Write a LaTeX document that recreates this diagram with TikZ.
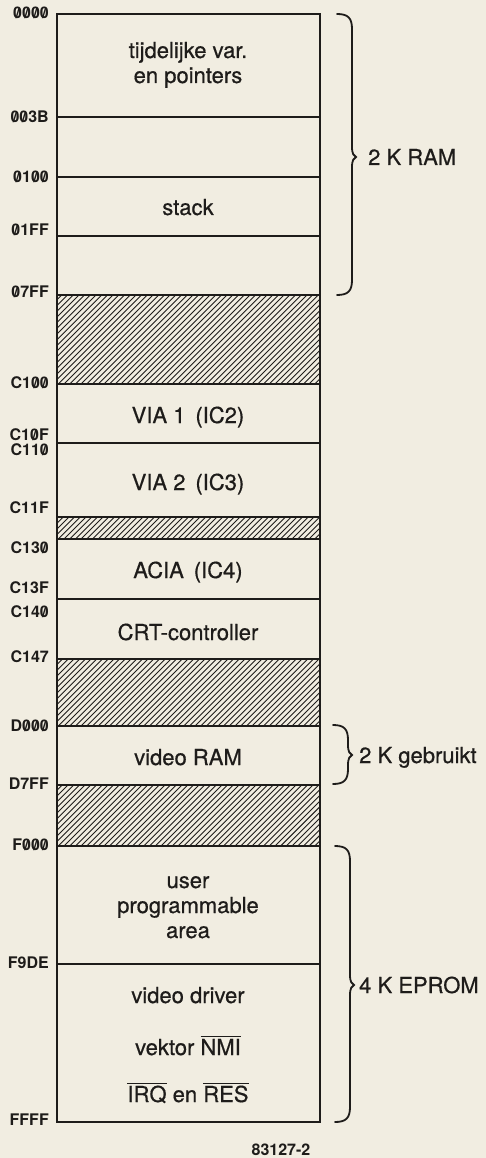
\documentclass[tikz,border=0pt]{standalone}
\usepackage{fontspec}
\setmainfont{TeX Gyre Heros}
\newfontfamily\medfont{TeX Gyre Heros}[FakeBold=0.6]
\definecolor{paper}{RGB}{241,237,225}
\definecolor{ink}{RGB}{30,28,26}
\newcommand\zs{\ooalign{0\cr\hidewidth\raisebox{0.02em}{\scalebox{0.95}[0.9]{/}}\hidewidth\cr}}
\newcommand\ovl[1]{\setbox0\hbox{#1}\rlap{\rule[0.82em]{\wd0}{0.065em}}\box0\relax}
\newcommand\rbr[4]{\draw[bracestyle] (#1,#2) .. controls ({#1+11},#2) and ({#1+15},{#2+4}) .. ({#1+15},{#2+15}) -- ({#1+15},{#4-10}) .. controls ({#1+15},{#4-3}) and ({#1+17},{#4-1}) .. ({#1+19},#4) .. controls ({#1+17},{#4+1}) and ({#1+15},{#4+3}) .. ({#1+15},{#4+10}) -- ({#1+15},{#3-15}) .. controls ({#1+15},{#3-4}) and ({#1+11},#3) .. (#1,#3);}
\tikzset{
  addr/.style={anchor=base east, inner sep=0pt, font=\fontsize{16}{18}\selectfont\bfseries, text=ink},
  lbl/.style={anchor=base, inner sep=0pt, font=\fontsize{22}{25}\medfont, text=ink},
  side/.style={anchor=base west, inner sep=0pt, font=\fontsize{22}{25}\medfont, text=ink},
  figno/.style={anchor=base, inner sep=0pt, font=\fontsize{16}{18}\selectfont\bfseries, text=ink},
  divider/.style={draw=ink, line width=1.6pt},
  frame/.style={draw=ink, line width=2.6pt},
  hatchline/.style={draw=ink, line width=0.9pt},
  bracestyle/.style={draw=ink, line width=1.8pt, line cap=round},
}
\begin{document}
\begin{tikzpicture}[x=1pt,y=-1pt]
\fill[paper] (0,0) rectangle (486,1158);
\useasboundingbox (0,0) rectangle (486,1158);
% hatched (unused) areas
\foreach \ya/\yb in {295/384, 517/539, 659/726, 785/846}{
  \begin{scope}
    \clip (57,\ya) rectangle (320,\yb);
    \foreach \k in {0,...,66} \draw[hatchline] ({\k*5.7-50},\yb) -- ++(100,-100);
  \end{scope}
}
% dividers
\foreach \y in {117,177,236,295,384,443,517,539,599,659,726,785,846,964}
  \draw[divider] (57,\y) -- (320,\y);
% frame
\draw[frame] (57,14) rectangle (320,1122);
% addresses
\node[addr] (a0000) at (49,18.5) {\zs\zs\zs\zs};
\node[addr] (a003B) at (49,122.5) {\zs\zs3B};
\node[addr] (a0100) at (49,182.5) {\zs1\zs\zs};
\node[addr] (a01FF) at (49,235.5) {\zs1FF};
\node[addr] (a07FF) at (49,297.5) {\zs7FF};
\node[addr] (aC100) at (49,388.5) {C1\zs\zs};
\node[addr] (aC10F) at (49,440.5) {C1\zs F};
\node[addr] (aC110) at (49,455.5) {C11\zs};
\node[addr] (aC11F) at (49,513.5) {C11F};
\node[addr] (aC130) at (49,553.5) {C13\zs};
\node[addr] (aC13F) at (49,593.5) {C13F};
\node[addr] (aC140) at (49,617.5) {C14\zs};
\node[addr] (aC147) at (49,662.5) {C147};
\node[addr] (aD000) at (49,731.5) {D\zs\zs\zs};
\node[addr] (aD7FF) at (49,789.5) {D7FF};
\node[addr] (aF000) at (49,850.5) {F\zs\zs\zs};
\node[addr] (aF9DE) at (49,968.5) {F9DE};
\node[addr] (aFFFF) at (49,1125.5) {FFFF};
% region texts
\node[lbl] (t1) at (188,58) {tijdelijke var.};
\node[lbl] (t2) at (188,83) {en pointers};
\node[lbl] (stack) at (188,215) {stack};
\node[lbl] (via1) at (188,423) {VIA 1\hspace{0.45em}(IC2)};
\node[lbl] (via2) at (188,490) {VIA 2\hspace{0.45em}(IC3)};
\node[lbl] (acia) at (188,578) {ACIA\hspace{0.45em}(IC4)};
\node[lbl] (crt) at (188,640) {CRT-controller};
\node[lbl] (vram) at (188,765) {video RAM};
\node[lbl] (u1) at (188,888) {user};
\node[lbl] (u2) at (188,913) {programmable};
\node[lbl] (u3) at (188,938) {area};
\node[lbl] (vd) at (188,1003) {video driver};
\node[lbl] (nmi) at (188,1055) {vektor \ovl{NMI}};
\node[lbl] (irq) at (188,1102) {\ovl{IRQ} en \ovl{RES}};
% braces
\rbr{337}{14}{295}{157}
\rbr{333}{725}{784}{755}
\rbr{335}{846}{1122}{985}
\node[side] (ram) at (368,165) {2 K RAM};
\node[side] (geb) at (359,763) {2 K gebruikt};
\node[side] (eprom) at (359,993) {4 K EPROM};
\node[figno] (fig) at (281,1155) {83127-2};
\end{tikzpicture}
\end{document}
